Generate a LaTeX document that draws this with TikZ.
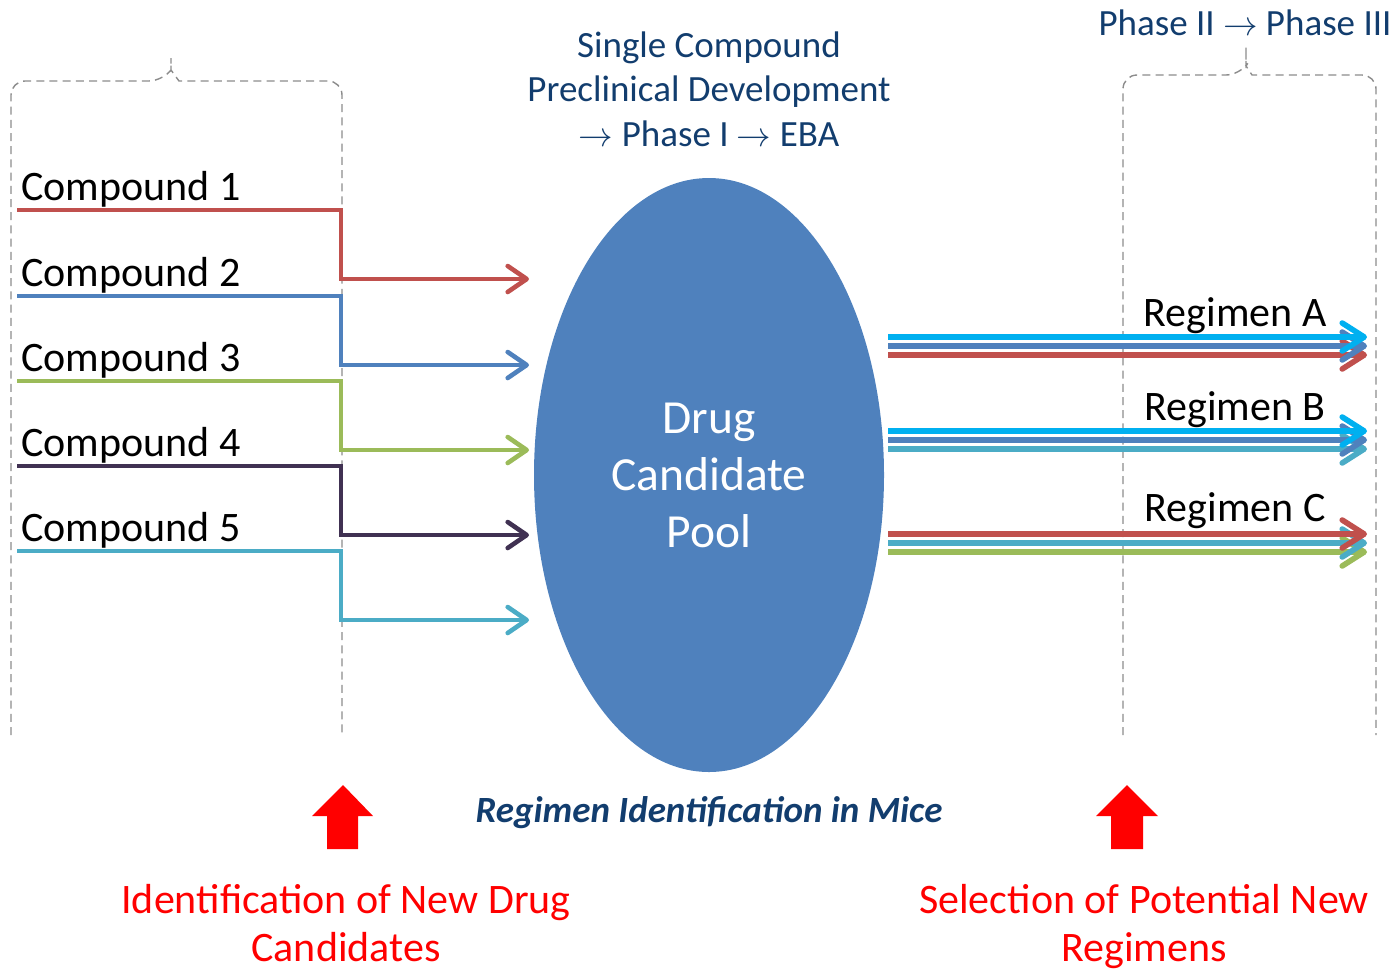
\documentclass[tikz,border=0pt]{standalone}
\usepackage{fontspec}
\setmainfont{Carlito}
\usetikzlibrary{arrows.meta,shapes.geometric}
\definecolor{cred}{HTML}{C0504D}
\definecolor{cblue}{HTML}{4F81BD}
\definecolor{cgreen}{HTML}{9BBB59}
\definecolor{cpurple}{HTML}{403152}
\definecolor{cteal}{HTML}{4BACC6}
\definecolor{ccyan}{HTML}{00B0F0}
\definecolor{navy}{HTML}{123D6E}
\definecolor{bracegray}{HTML}{8C8C8C}
\tikzset{
  txt/.style={inner sep=0pt, anchor=base},
  bigtxt/.style={txt, font=\fontsize{21}{25}\selectfont},
  midtxt/.style={txt, font=\fontsize{18.5}{22}\selectfont},
  brace/.style={draw=bracegray, line width=0.7pt, dash pattern=on 4pt off 2.6pt},
  feed/.style={line width=2.3pt, -{Straight Barb[length=9.5pt, width=13pt, round]}},
  outflow/.style={line width=2.8pt, -{Straight Barb[length=11pt, width=14pt, round]}},
  blockarrow/.style={fill=red, draw=none},
}
\begin{document}
\begin{tikzpicture}[x=0.5pt, y=-0.5pt]
\useasboundingbox (0,0) rectangle (1397,971);

% dashed braces
\draw[brace, rounded corners=7pt] (11,735) -- (11,81) -- (163,81) [sharp corners] -- (171,70) -- (171,58) -- (171,70) -- (179,81) [rounded corners=7pt] -- (342,81) -- (342,735);
\draw[brace, rounded corners=7pt] (1123,735) -- (1123,75) -- (1240,75) [sharp corners] -- (1246,66) -- (1246,47) -- (1246,66) -- (1252,75) [rounded corners=7pt] -- (1376,75) -- (1376,735);

% header texts
\node[midtxt, text=navy] (h1) at (709,57) {Single Compound};
\node[midtxt, text=navy] (h2) at (709,101) {Preclinical Development};
\node[midtxt, text=navy] (h3) at (709,146) {$\rightarrow$ Phase I $\rightarrow$ EBA};
\node[midtxt, text=navy] (h4) at (1245,35) {Phase II $\rightarrow$ Phase III};

% central pool
\node[ellipse, fill=cblue, minimum width=175pt, minimum height=297pt, inner sep=0pt] (pool) at (709,475) {};
\node[txt, text=white, font=\fontsize{23.75}{28}\selectfont] (p1) at (709,433) {Drug};
\node[txt, text=white, font=\fontsize{23.75}{28}\selectfont] (p2) at (709,490) {Candidate};
\node[txt, text=white, font=\fontsize{23.75}{28}\selectfont] (p3) at (709,547) {Pool};

% compounds feeding the pool
\foreach \i/\y/\c in {1/210/cred, 2/296/cblue, 3/381/cgreen, 4/466/cpurple, 5/551/cteal}{
  \node[bigtxt, anchor=base west] (lab\i) at (21,\y-10) {Compound \i};
  \coordinate (s\i) at (17,\y);
  \coordinate (k\i) at (341,\y+69);
  \coordinate (e\i) at (529,\y+69);
  \draw[feed, color=\c] (s\i) -| (k\i) -- (e\i);
}

% regimens leaving the pool
\foreach \n/\y/\ca/\cb/\cc in {A/337/ccyan/cblue/cred, B/431/ccyan/cblue/cteal, C/534/cred/cteal/cgreen}{
  \coordinate (ra\n) at (888,\y);
  \coordinate (rb\n) at (888,\y+9);
  \coordinate (rc\n) at (888,\y+18);
  \coordinate (ta\n) at (1367,\y);
  \coordinate (tb\n) at (1367,\y+9);
  \coordinate (tc\n) at (1367,\y+18);
  \draw[outflow, color=\cc] (rc\n) -- (tc\n);
  \draw[outflow, color=\cb] (rb\n) -- (tb\n);
  \draw[outflow, color=\ca] (ra\n) -- (ta\n);
}
\node[bigtxt] (regA) at (1235,326) {Regimen A};
\node[bigtxt] (regB) at (1235,420) {Regimen B};
\node[bigtxt] (regC) at (1235,521) {Regimen C};

% red block arrows
\fill[blockarrow] (343,785) -- (373,816) -- (358,816) -- (358,849) -- (327,849) -- (327,816) -- (312,816) -- cycle;
\fill[blockarrow] (1127,785) -- (1158,816) -- (1143,816) -- (1143,849) -- (1111,849) -- (1111,816) -- (1096,816) -- cycle;

% bottom captions
\node[midtxt, text=navy, font=\fontsize{18.5}{22}\selectfont\bfseries\itshape] (mice) at (709,822) {Regimen Identification in Mice};
\node[bigtxt, text=red] (l1) at (346,913) {Identification of New Drug};
\node[bigtxt, text=red] (l2) at (346,961) {Candidates};
\node[bigtxt, text=red] (r1) at (1144,913) {Selection of Potential New};
\node[bigtxt, text=red] (r2) at (1144,961) {Regimens};
\end{tikzpicture}
\end{document}
